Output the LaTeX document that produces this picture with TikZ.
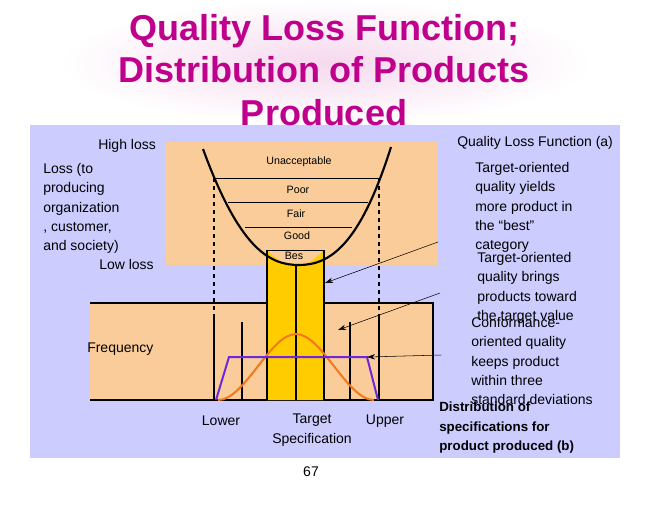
\documentclass[tikz,border=0pt]{standalone}
\usepackage{fontspec}
\setmainfont{Liberation Sans}
\usetikzlibrary{arrows.meta}
\definecolor{panel}{RGB}{204,204,255}
\definecolor{peach}{RGB}{250,204,153}
\definecolor{gold}{RGB}{255,204,0}
\definecolor{ttl}{RGB}{190,0,140}
\definecolor{orng}{RGB}{240,120,30}
\definecolor{purp}{RGB}{110,40,220}
\tikzset{
 lbl/.style={font=\fontsize{10.5}{12}\selectfont, align=left, inner sep=0pt},
 rtxt/.style={font=\fontsize{10.5}{14.5}\selectfont, align=left, inner sep=0pt, anchor=north west},
 arr/.style={-{Stealth[length=6pt,width=4pt]}, thin},
}
\begin{document}
\begin{tikzpicture}[x=0.75pt,y=-0.75pt]
\useasboundingbox (0,0) rectangle (648,504);
\fill[white] (0,0) rectangle (648,504);
\shade[inner color=ttl!15, outer color=white] (60,0) rectangle (590,125);
\fill[panel] (30,125) rectangle (620,458);
\fill[peach] (165,142) rectangle (437,265);
\fill[peach] (90,303) rectangle (433,400);
\draw[thick] (90,303) -- (433,303) -- (433,400) -- (90,400);
% yellow column
\fill[gold] (267,250) -- (267,400) -- (324,400) -- (324,250) .. controls (312,262) and (305,266) .. (296,266) .. controls (287,266) and (279,262) .. (267,250);
% category lines
\draw (215,178) -- (381,178);
\draw (228,202) -- (368,202);
\draw (245,227) -- (352,227);
\draw (267,250) -- (324,250);
% parabola
\draw[line width=1.6pt] (203,149) .. controls (240,250) and (270,265) .. (299,265) .. controls (330,265) and (360,245) .. (391,147);
% dashed and vertical lines
\draw[thick,dashed] (214,178) -- (214,317);
\draw[thick,dashed] (379,178) -- (379,317);
\draw[thick] (214,317) -- (214,400);
\draw[thick] (379,317) -- (379,400);
\draw[thick] (242,322) -- (242,400);
\draw[thick] (350,322) -- (350,400);
\draw[thick] (267,250) -- (267,400);
\draw[thick] (324,250) -- (324,400);
\draw[thick] (296,266) -- (296,400);
% distributions
\draw[orng,line width=1.5pt] (218,400) .. controls (245,400) and (270,334) .. (296,334) .. controls (322,334) and (347,400) .. (374,400);
\draw[purp,line width=1.5pt] (216,400) -- (229,357) -- (367,357) -- (378,400);
% labels
\node[lbl] (cat1) at (299,162) {\fontsize{8}{9}\selectfont Unacceptable};
\node[lbl] (cat2) at (298,190) {\fontsize{8}{9}\selectfont Poor};
\node[lbl] (cat3) at (296,214) {\fontsize{8}{9}\selectfont Fair};
\node[lbl] (cat4) at (297,236) {\fontsize{8}{9}\selectfont Good};
\node[lbl] (cat5) at (294,256) {\fontsize{8}{9}\selectfont Bes};
\node[lbl,anchor=west] (hl) at (98,146) {High loss};
\node[lbl,anchor=north west,font=\fontsize{10.5}{14.5}\selectfont] (loss) at (43,163) {Loss (to\\producing\\organization\\, customer,\\and society)};
\node[lbl,anchor=west] (ll) at (99,264) {Low loss};
\node[lbl,anchor=west] (fr) at (87,349) {Frequency};
\node[lbl] (lo) at (221,421) {Lower};
\node[lbl,align=center,font=\fontsize{10.5}{14.5}\selectfont] (tg) at (312,430) {Target\\Specification};
\node[lbl] (up) at (385,421) {Upper};
\node[lbl] (pg) at (311,472) {67};
\node[lbl,anchor=west] (qa) at (457,143) {Quality Loss Function (a)};
\node[rtxt] (t1) at (475,162) {Target-oriented\\quality yields\\more product in\\the “best”\\category};
\node[rtxt] (t2) at (477,252) {Target-oriented\\quality brings\\products toward\\the target value};
\node[rtxt] (t3) at (471,317) {Conformance-\\oriented quality\\keeps product\\within three\\standard deviations};
\node[rtxt,font=\bfseries\fontsize{10}{14.5}\selectfont] (t4) at (439,402) {Distribution of\\specifications for\\product produced (b)};
\coordinate (a1) at (438,242);
\coordinate (a2) at (440,293);
\coordinate (a3) at (441,355);
\draw[arr] (a1) -- (325,283);
\draw[arr] (a2) -- (338,330);
\draw[arr] (a3) -- (367,357);
% title
\node[font=\bfseries\fontsize{27}{32}\selectfont, text=ttl, align=center] (title) at (324,70) {Quality Loss Function;\\Distribution of Products\\Produced};
\end{tikzpicture}
\end{document}
